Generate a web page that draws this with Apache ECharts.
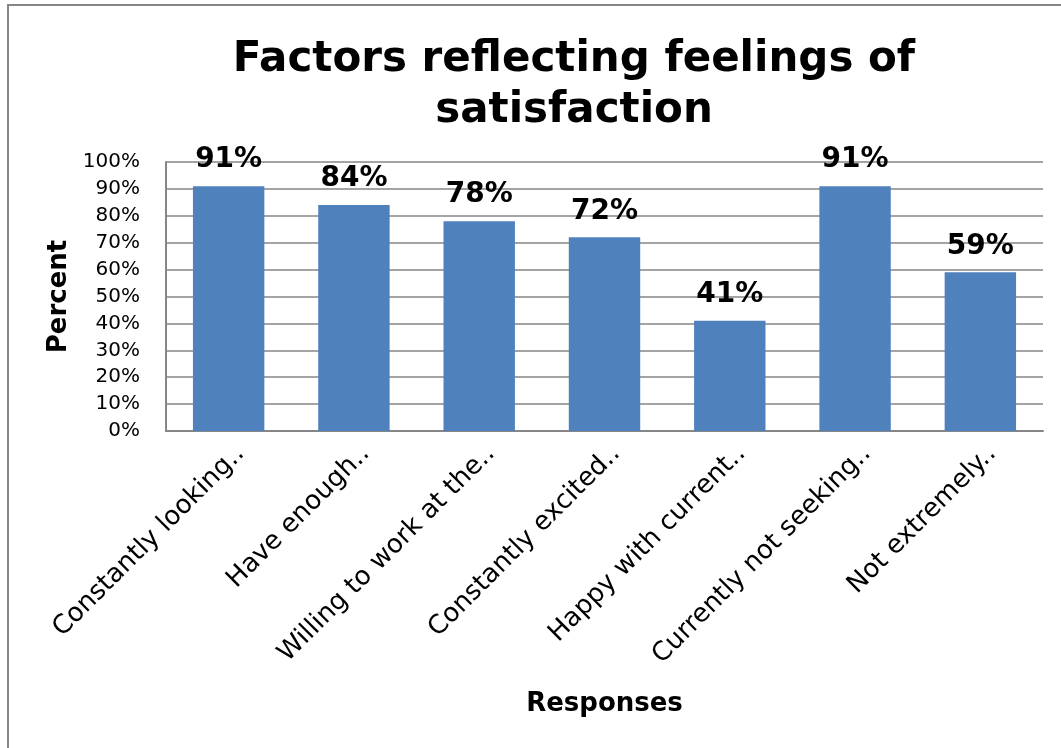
<!DOCTYPE html>
<html>
<head>
<meta charset="utf-8">
<script src="https://cdn.jsdelivr.net/npm/echarts@6/dist/echarts.min.js"></script>
<style>
html,body{margin:0;padding:0;background:#fff;}
#chart{width:1061px;height:748px;}
</style>
</head>
<body>
<div id="chart"></div>
<script>
const titleText = 'Factors reflecting feelings of\nsatisfaction';
const categories = [
  'Constantly looking..',
  'Have enough..',
  'Willing to work at the..',
  'Constantly excited..',
  'Happy with current..',
  'Currently not seeking..',
  'Not extremely..'
];
const percentValues = [91, 84, 78, 72, 41, 91, 59];
const yAxisName = 'Percent';
const xAxisName = 'Responses';

const FONT = '"DejaVu Sans", Verdana, sans-serif';
const chart = echarts.init(document.getElementById('chart'), null, {renderer: 'canvas'});
chart.setOption({
  backgroundColor: '#ffffff',
  animation: false,
  title: {
    text: titleText,
    left: 569,
    top: 30,
    textAlign: 'center',
    textStyle: {fontFamily: FONT, fontSize: 42, fontWeight: 'bold', color: '#000', lineHeight: 51}
  },
  graphic: [{
    type: 'rect',
    shape: {x: 8, y: 5, width: 1200, height: 900},
    style: {fill: 'none', stroke: '#868686', lineWidth: 2},
    silent: true
  }],
  grid: {left: 166, right: 18, top: 162, bottom: 317, containLabel: false},
  xAxis: {
    type: 'category',
    data: categories,
    name: xAxisName,
    nameLocation: 'middle',
    nameGap: 260,
    nameTextStyle: {fontFamily: FONT, fontSize: 26, fontWeight: 'bold', color: '#000'},
    axisLine: {show: true, lineStyle: {color: '#868686', width: 2}},
    axisTick: {show: false},
    axisLabel: {
      interval: 0,
      rotate: 45,
      margin: 7,
      align: 'right',
      verticalAlign: 'top',
      lineHeight: 33,
      fontFamily: FONT, fontSize: 26, color: '#000'
    }
  },
  yAxis: {
    type: 'value',
    min: 0, max: 100, interval: 10,
    name: yAxisName,
    nameLocation: 'middle',
    nameRotate: 90,
    nameGap: 93,
    nameTextStyle: {fontFamily: FONT, fontSize: 26, fontWeight: 'bold', color: '#000'},
    axisLine: {show: true, lineStyle: {color: '#868686', width: 2}},
    axisTick: {show: false},
    splitLine: {show: true, lineStyle: {color: '#868686', width: 1.5}},
    axisLabel: {
      margin: 26,
      formatter: '{value}%',
      fontFamily: FONT, fontSize: 20, color: '#000'
    }
  },
  series: [{
    type: 'bar',
    data: percentValues,
    barCategoryGap: '43%',
    itemStyle: {color: '#4F81BD'},
    label: {
      show: true,
      position: 'top',
      distance: 12,
      formatter: '{c}%',
      fontFamily: FONT, fontSize: 28, fontWeight: 'bold', color: '#000'
    }
  }]
});
</script>
</body>
</html>
